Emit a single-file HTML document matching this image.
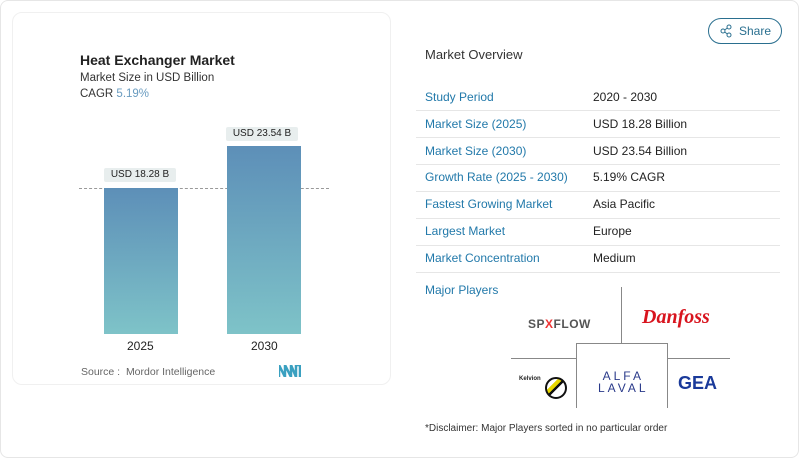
<!DOCTYPE html>
<html><head><meta charset="utf-8"><style>
*{margin:0;padding:0;box-sizing:border-box}
body{width:800px;height:459px;background:#fff;font-family:"Liberation Sans",sans-serif;position:relative;overflow:hidden}
.abs{position:absolute;white-space:nowrap}
.outer{position:absolute;left:0;top:0;width:799px;height:458px;border:1px solid #e6e6e6;border-radius:8px}
.card{position:absolute;left:12px;top:12px;width:379px;height:373px;border:1px solid #f0f0f0;border-radius:10px}
.bar{position:absolute;background:linear-gradient(#5d8fb8,#7ec3c8)}
.tag{position:absolute;background:#e8eeee;font-size:10px;color:#222;text-align:center;line-height:14px;border-radius:2px}
.lab{position:absolute;left:425px;font-size:12px;color:#2279aa;white-space:nowrap}
.val{position:absolute;left:593px;font-size:12px;color:#222;white-space:nowrap}
.sep{position:absolute;left:416px;width:364px;height:1px;background:#e6e6e6}
.ln{position:absolute;background:#888}
</style></head><body>
<div class="outer"></div>
<div class="card"></div>
<div class="abs" style="left:80px;top:52px;font-size:14px;font-weight:bold;color:#222">Heat Exchanger Market</div>
<div class="abs" style="left:80px;top:72px;font-size:11.5px;color:#333">Market Size in USD Billion</div>
<div class="abs" style="left:80px;top:88px;font-size:11.5px;color:#333">CAGR <span style="color:#6a9cc0">5.19%</span></div>
<div style="position:absolute;left:79px;top:188px;width:250px;border-top:1px dashed #999"></div>
<div class="bar" style="left:104px;top:188px;width:74px;height:146px"></div>
<div class="bar" style="left:227px;top:146px;width:74px;height:188px"></div>
<div class="tag" style="left:104px;top:168px;width:72px">USD 18.28 B</div>
<div class="tag" style="left:226px;top:127px;width:72px">USD 23.54 B</div>
<div class="abs" style="left:127px;top:339px;font-size:12px;color:#222">2025</div>
<div class="abs" style="left:251px;top:339px;font-size:12px;color:#222">2030</div>
<div class="abs" style="left:81px;top:366px;font-size:10.5px;color:#666">Source :&nbsp; Mordor Intelligence</div>
<svg class="abs" style="left:279px;top:365px" width="22" height="12"><path d="M0 12V0l6 12V0l6 12V0l5 12V0h4v12" fill="none" stroke="#3aa0c0" stroke-width="2.5"/></svg>
<div class="abs" style="left:708px;top:18px;width:74px;height:26px;border:1px solid #2a6f8f;border-radius:13px;font-size:12px;color:#2a6f8f;line-height:24px;padding-left:30px">Share</div>
<svg class="abs" style="left:720px;top:24px" width="12" height="14"><circle cx="9" cy="3" r="2" fill="none" stroke="#2a6f8f"/><circle cx="3" cy="7" r="2" fill="none" stroke="#2a6f8f"/><circle cx="9" cy="11" r="2" fill="none" stroke="#2a6f8f"/><path d="M4.5 6 7.5 4M4.5 8l3 2" stroke="#2a6f8f"/></svg>
<div class="abs" style="left:425px;top:47px;font-size:13px;color:#333">Market Overview</div>
<div class="lab" style="top:90px">Study Period</div><div class="val" style="top:90px">2020 - 2030</div><div class="sep" style="top:110px"></div>
<div class="lab" style="top:117px">Market Size (2025)</div><div class="val" style="top:117px">USD 18.28 Billion</div><div class="sep" style="top:137px"></div>
<div class="lab" style="top:144px">Market Size (2030)</div><div class="val" style="top:144px">USD 23.54 Billion</div><div class="sep" style="top:164px"></div>
<div class="lab" style="top:170px">Growth Rate (2025 - 2030)</div><div class="val" style="top:170px">5.19% CAGR</div><div class="sep" style="top:191px"></div>
<div class="lab" style="top:197px">Fastest Growing Market</div><div class="val" style="top:197px">Asia Pacific</div><div class="sep" style="top:218px"></div>
<div class="lab" style="top:224px">Largest Market</div><div class="val" style="top:224px">Europe</div><div class="sep" style="top:245px"></div>
<div class="lab" style="top:251px">Market Concentration</div><div class="val" style="top:251px">Medium</div><div class="sep" style="top:272px"></div>
<div class="lab" style="top:283px">Major Players</div>
<div class="ln" style="left:621px;top:287px;width:1px;height:56px"></div>
<div style="position:absolute;left:576px;top:343px;width:92px;height:65px;border:1px solid #888;border-bottom:none"></div>
<div class="ln" style="left:511px;top:358px;width:65px;height:1px"></div>
<div class="ln" style="left:668px;top:358px;width:62px;height:1px"></div>
<div class="abs" style="left:528px;top:317px;font-size:12px;font-weight:bold;color:#555;letter-spacing:0.5px">SP<span style="color:#e33">X</span>FLOW</div>
<div class="abs" style="left:642px;top:306px;font-size:20px;font-style:italic;font-weight:bold;color:#d8141e;font-family:'Liberation Serif',serif">Danfoss</div>
<div class="abs" style="left:519px;top:376px;font-size:6px;font-weight:bold;color:#222">Kelvion</div>
<div class="abs" style="left:545px;top:377px;width:22px;height:22px;border-radius:50%;border:2px solid #111;background:linear-gradient(135deg,#fff 30%,#e8d800 30%,#e8d800 45%,#111 45%,#111 55%,#fff 55%)"></div>
<div class="abs" style="left:598px;top:370px;font-size:12px;color:#2a3a8a;letter-spacing:3px;line-height:12px;text-align:center">ALFA<br>LAVAL</div>
<div class="abs" style="left:678px;top:373px;font-size:18px;font-weight:bold;color:#1a3a9a">GEA</div>
<div class="abs" style="left:425px;top:423px;font-size:10px;color:#333">*Disclaimer: Major Players sorted in no particular order</div>
</body></html>
